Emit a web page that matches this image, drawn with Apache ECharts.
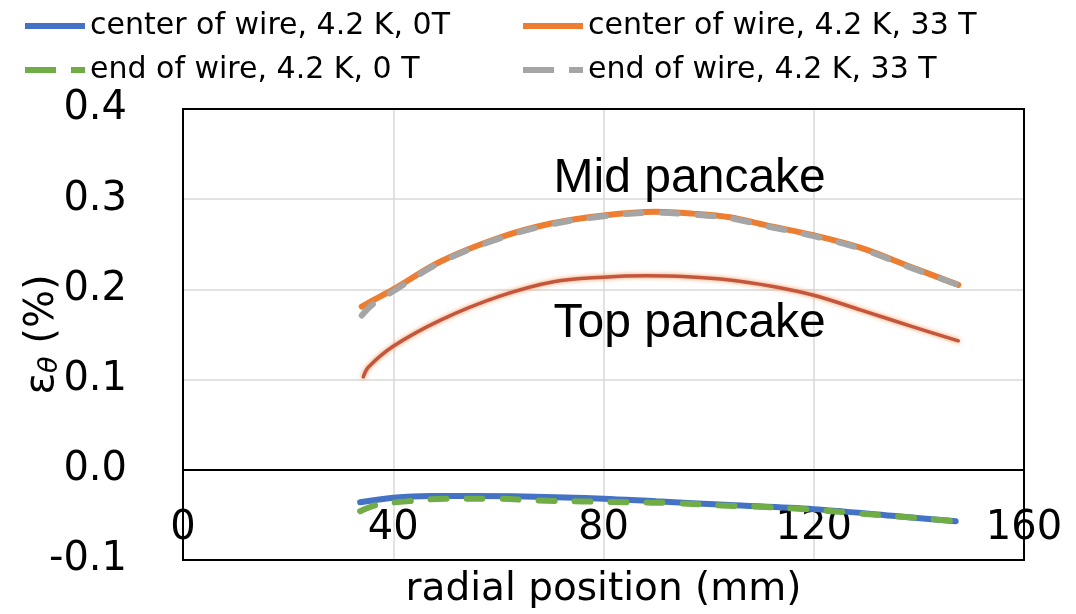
<!DOCTYPE html>
<html>
<head>
<meta charset="utf-8">
<script src="https://cdn.jsdelivr.net/npm/echarts@6/dist/echarts.min.js"></script>
<style>
  html, body { margin: 0; padding: 0; background: #fff; }
  #chart { width: 1076px; height: 614px; }
</style>
</head>
<body>
<div id="chart"></div>
<script>
// Hoop strain along the radial position of the pancake coils
const xTicks = [0, 40, 80, 120, 160];
const yTicks = [-0.1, 0.0, 0.1, 0.2, 0.3, 0.4];

const seriesNames = [
  'center of wire, 4.2 K, 0T',
  'center of wire, 4.2 K, 33 T',
  'end of wire, 4.2 K, 0 T',
  'end of wire, 4.2 K, 33 T'
];

// Mid pancake, 33 T
const midX       = [34, 36.2, 40, 49, 60, 70, 80, 90, 97, 104, 111, 120, 129, 138, 147.5];
const midCenter  = [0.181, 0.188, 0.200, 0.231, 0.257, 0.273, 0.282, 0.286, 0.284, 0.280, 0.271, 0.260, 0.246, 0.226, 0.205];
const midEnd     = [0.171, 0.184, 0.198, 0.230, 0.256, 0.272, 0.281, 0.285, 0.283, 0.279, 0.270, 0.259, 0.245, 0.225, 0.205];

// Top pancake, 33 T
const topX       = [34.3, 35.3, 40, 49, 60, 70.5, 80, 88, 96, 104, 112, 120, 129, 138.6, 147.5];
const topCenter  = [0.103, 0.114, 0.137, 0.166, 0.192, 0.2085, 0.2135, 0.215, 0.214, 0.2105, 0.2035, 0.1935, 0.177, 0.159, 0.143];

// 0 T
const zeroCenterX = [33.7, 40, 47, 55, 65, 80, 90, 104, 120, 135, 147];
const zeroCenter  = [-0.036, -0.031, -0.029, -0.029, -0.0295, -0.032, -0.035, -0.039, -0.0436, -0.051, -0.057];
const zeroEndX    = [33.7, 36.8, 42.5, 50, 59, 67.4, 84.5, 94, 102.4, 110, 119, 127.8, 136, 145, 147];
const zeroEnd     = [-0.046, -0.039, -0.035, -0.032, -0.032, -0.034, -0.036, -0.037, -0.0395, -0.041, -0.044, -0.048, -0.0517, -0.056, -0.057];

// Curve captions, anchored at their centre in data coordinates
const captionText   = ['Mid pancake', 'Top pancake'];
const captionAnchor = [[96.4, 0.323], [96.4, 0.162]];

const pairs = (xs, ys) => xs.map((x, i) => [x, ys[i]]);

const BLUE = '#4472C4', ORANGE = '#ED7D31', GRAY = '#A5A5A5', GREEN = '#70AD47';
const FONT = 'DejaVu Sans';

const legendBase = {
  padding: 0,
  itemWidth: 60,
  itemHeight: 14,
  itemGap: 0,
  selectedMode: false,
  itemStyle: { opacity: 0, borderWidth: 0 },
  textStyle: { fontFamily: FONT, fontSize: 30, color: '#000' }
};

const chart = echarts.init(document.getElementById('chart'), null, { renderer: 'canvas' });

chart.setOption({
  animation: false,
  backgroundColor: '#fff',
  grid: {
    left: 183, right: 52, top: 109, bottom: 54,
    outerBoundsMode: 'none', containLabel: false,
    show: true, z: 10, borderColor: '#000', borderWidth: 2, backgroundColor: 'transparent'
  },
  legend: [
    Object.assign({}, legendBase, { left: 22, top: 11, data: [seriesNames[0]],
      lineStyle: { width: 6, cap: 'butt', type: 'solid' } }),
    Object.assign({}, legendBase, { left: 520, top: 11, data: [seriesNames[1]],
      lineStyle: { width: 6, cap: 'butt', type: 'solid' } }),
    Object.assign({}, legendBase, { left: 22, top: 55, data: [seriesNames[2]],
      lineStyle: { width: 6, cap: 'butt', type: [31, 15] } }),
    Object.assign({}, legendBase, { left: 520, top: 55, data: [seriesNames[3]],
      lineStyle: { width: 6, cap: 'butt', type: [31, 15] } })
  ],
  xAxis: {
    type: 'value',
    min: xTicks[0], max: xTicks[xTicks.length - 1], interval: 40,
    axisLine: { show: false, onZero: false },
    axisTick: { show: false },
    axisLabel: {
      inside: true, margin: 11,
      fontFamily: FONT, fontSize: 40, color: '#000',
      showMinLabel: true, showMaxLabel: true
    },
    splitLine: { show: true, lineStyle: { color: '#d9d9d9', width: 1.5 } },
    name: 'radial position (mm)',
    nameLocation: 'middle',
    nameGap: 10,
    nameMoveOverlap: false,
    nameTextStyle: { fontFamily: FONT, fontSize: 39, color: '#000' }
  },
  yAxis: {
    type: 'value',
    min: yTicks[0], max: yTicks[yTicks.length - 1], interval: 0.1,
    axisLine: { show: false },
    axisTick: { show: false },
    axisLabel: {
      fontFamily: FONT, fontSize: 40, color: '#000', margin: 56,
      formatter: v => v.toFixed(1)
    },
    splitLine: { show: true, lineStyle: { color: '#d9d9d9', width: 1.5 } },
    name: '{e|ε}{s|θ}{p| (%)}',
    nameLocation: 'middle',
    nameRotate: 90,
    nameGap: 120,
    nameMoveOverlap: false,
    nameTextStyle: {
      color: '#000',
      padding: [0, 0, 0, 0],
      rich: {
        e: { fontFamily: FONT, fontSize: 40, color: '#000', verticalAlign: 'middle' },
        s: { fontFamily: FONT, fontSize: 27, fontStyle: 'italic', color: '#000', verticalAlign: 'bottom' },
        p: { fontFamily: FONT, fontSize: 40, color: '#000', verticalAlign: 'middle' }
      }
    }
  },
  series: [
    {
      name: seriesNames[0], type: 'line', data: pairs(zeroCenterX, zeroCenter),
      smooth: 0.35, symbol: 'none', z: 3,
      itemStyle: { color: BLUE },
      lineStyle: { color: BLUE, width: 6, cap: 'round' },
      // zero reference line
      markLine: {
        silent: true, symbol: 'none', label: { show: false },
        lineStyle: { color: '#000', width: 2, type: 'solid' },
        data: [{ yAxis: 0 }]
      }
    },
    {
      name: seriesNames[2], type: 'line', data: pairs(zeroEndX, zeroEnd),
      smooth: 0.35, symbol: 'none', z: 4,
      itemStyle: { color: GREEN },
      lineStyle: { color: GREEN, width: 6, type: [16, 20], cap: 'round' }
    },
    {
      name: 'Top pancake', type: 'line', data: pairs(topX, topCenter),
      smooth: 0.35, symbol: 'none', z: 3,
      lineStyle: {
        color: '#C5563E', width: 3.5, cap: 'round',
        shadowBlur: 4, shadowColor: 'rgba(240,140,70,0.9)'
      }
    },
    {
      name: seriesNames[1], type: 'line', data: pairs(midX, midCenter),
      smooth: 0.35, symbol: 'none', z: 3,
      itemStyle: { color: ORANGE },
      lineStyle: { color: ORANGE, width: 6, cap: 'round' }
    },
    {
      name: seriesNames[3], type: 'line', data: pairs(midX, midEnd),
      smooth: 0.35, symbol: 'none', z: 4,
      itemStyle: { color: GRAY },
      lineStyle: { color: GRAY, width: 6, type: [16, 20], cap: 'round' }
    }
  ]
});

// Captions placed through the grid's coordinate system
chart.setOption({
  graphic: captionText.map((text, i) => {
    const [px, py] = chart.convertToPixel({ gridIndex: 0 }, captionAnchor[i]);
    return {
      type: 'text', x: px, y: py, z: 20, silent: true,
      style: {
        text: text, fill: '#000',
        font: '48px "Liberation Sans", Arial, sans-serif',
        align: 'center', verticalAlign: 'middle'
      }
    };
  })
});
</script>
</body>
</html>
